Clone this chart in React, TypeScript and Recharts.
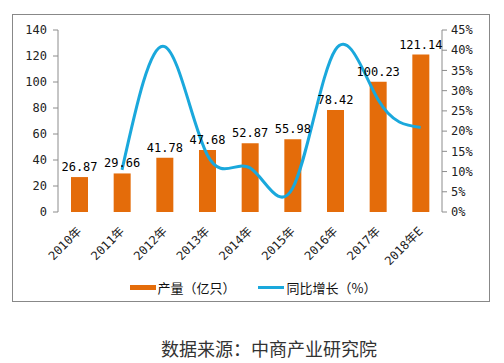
import {
  ComposedChart,
  Bar,
  Line,
  XAxis,
  YAxis,
  LabelList,
  Legend,
} from "recharts";

const years = ["2010年", "2011年", "2012年", "2013年", "2014年", "2015年", "2016年", "2017年", "2018年E"];
const output = [26.87, 29.66, 41.78, 47.68, 52.87, 55.98, 78.42, 100.23, 121.14];
const growth = [null, 10.4, 40.9, 14.1, 10.9, 5.9, 40.1, 27.8, 20.9];
const leftTicks = [0, 20, 40, 60, 80, 100, 120, 140];
const rightTicks = [0, 5, 10, 15, 20, 25, 30, 35, 40, 45];
const boundaryTicks = [0, 1, 2, 3, 4, 5, 6, 7, 8, 9];

const BAR_COLOR = "#E46C0A";
const LINE_COLOR = "#1AA8DC";
const AXIS_COLOR = "#8c8c8c";
const NUM_FONT = "'DejaVu Sans Mono', 'Noto Sans CJK SC', monospace";

const data = years.map((y, i) => ({ year: y, output: output[i], growth: growth[i], idx: i + 0.5 }));

function YearTick(props: any) {
  const { x, y, payload } = props;
  return (
    <text
      x={x + 3}
      y={y + 12}
      textAnchor="end"
      fontSize={12}
      fontFamily={NUM_FONT}
      fill="#222"
      transform={`rotate(-45, ${x + 3}, ${y + 12})`}
    >
      {payload.value}
    </text>
  );
}

function LegendContent() {
  return (
    <div
      style={{
        display: "flex",
        justifyContent: "center",
        alignItems: "center",
        fontFamily: "'Noto Sans CJK SC', sans-serif",
        fontSize: 13,
        color: "#111",
        marginLeft: 4,
      }}
    >
      <span style={{ display: "inline-block", width: 26, height: 5, background: BAR_COLOR, marginRight: 2 }} />
      <span style={{ marginRight: 22 }}>产量（亿只）</span>
      <span style={{ display: "inline-block", width: 26, height: 3, background: LINE_COLOR, marginRight: 3 }} />
      <span>同比增长（%）</span>
    </div>
  );
}

export default function App() {
  return (
    <div style={{ position: "absolute", left: 0, top: 0, width: 504, height: 363, background: "#fff" }}>
      <div
        style={{
          position: "absolute",
          left: 12,
          top: 14,
          width: 478,
          height: 288,
          border: "1px solid #888",
          boxSizing: "border-box",
        }}
      />
      <ComposedChart
        width={504}
        height={304}
        data={data}
        margin={{ top: 30, right: 14, left: 12, bottom: 2 }}
        style={{ position: "absolute", left: 0, top: 0 }}
      >
        <XAxis
          xAxisId="grid"
          type="number"
          dataKey="idx"
          domain={[0, 9]}
          ticks={boundaryTicks}
          tick={false}
          height={0}
          stroke={AXIS_COLOR}
          tickSize={5}
        />
        <XAxis
          xAxisId="cat"
          dataKey="year"
          interval={0}
          tickLine={false}
          axisLine={false}
          tick={<YearTick />}
          height={66}
        />
        <YAxis
          yAxisId="left"
          domain={[0, 140]}
          ticks={leftTicks}
          width={46}
          stroke={AXIS_COLOR}
          tickSize={5}
          tick={{ fill: "#222", fontSize: 12, fontFamily: NUM_FONT, dx: -4 }}
        />
        <YAxis
          yAxisId="right"
          orientation="right"
          domain={[0, 45]}
          ticks={rightTicks}
          width={48}
          stroke={AXIS_COLOR}
          tickSize={5}
          tickFormatter={(v) => `${v}%`}
          tick={{ fill: "#222", fontSize: 12, fontFamily: NUM_FONT, dx: 2 }}
        />
        <Bar
          xAxisId="cat"
          yAxisId="left"
          dataKey="output"
          name="产量（亿只）"
          fill={BAR_COLOR}
          barSize={17}
          isAnimationActive={false}
        >
          <LabelList
            dataKey="output"
            position="top"
            offset={6}
            fill="#000"
            fontSize={12}
            fontFamily={NUM_FONT}
            formatter={(v: any) => Number(v).toFixed(2)}
          />
        </Bar>
        <Line
          xAxisId="cat"
          yAxisId="right"
          dataKey="growth"
          name="同比增长（%）"
          type="natural"
          stroke={LINE_COLOR}
          strokeWidth={3}
          dot={false}
          connectNulls={false}
          isAnimationActive={false}
        />
        <Legend verticalAlign="bottom" height={24} content={<LegendContent />} />
      </ComposedChart>
      <div
        style={{
          position: "absolute",
          left: 0,
          width: 504,
          top: 335,
          textAlign: "center",
          fontFamily: "'Noto Sans CJK SC', sans-serif",
          fontSize: 18,
          color: "#333",
          paddingLeft: 34,
          boxSizing: "border-box",
        }}
      >
        数据来源：中商产业研究院
      </div>
    </div>
  );
}
